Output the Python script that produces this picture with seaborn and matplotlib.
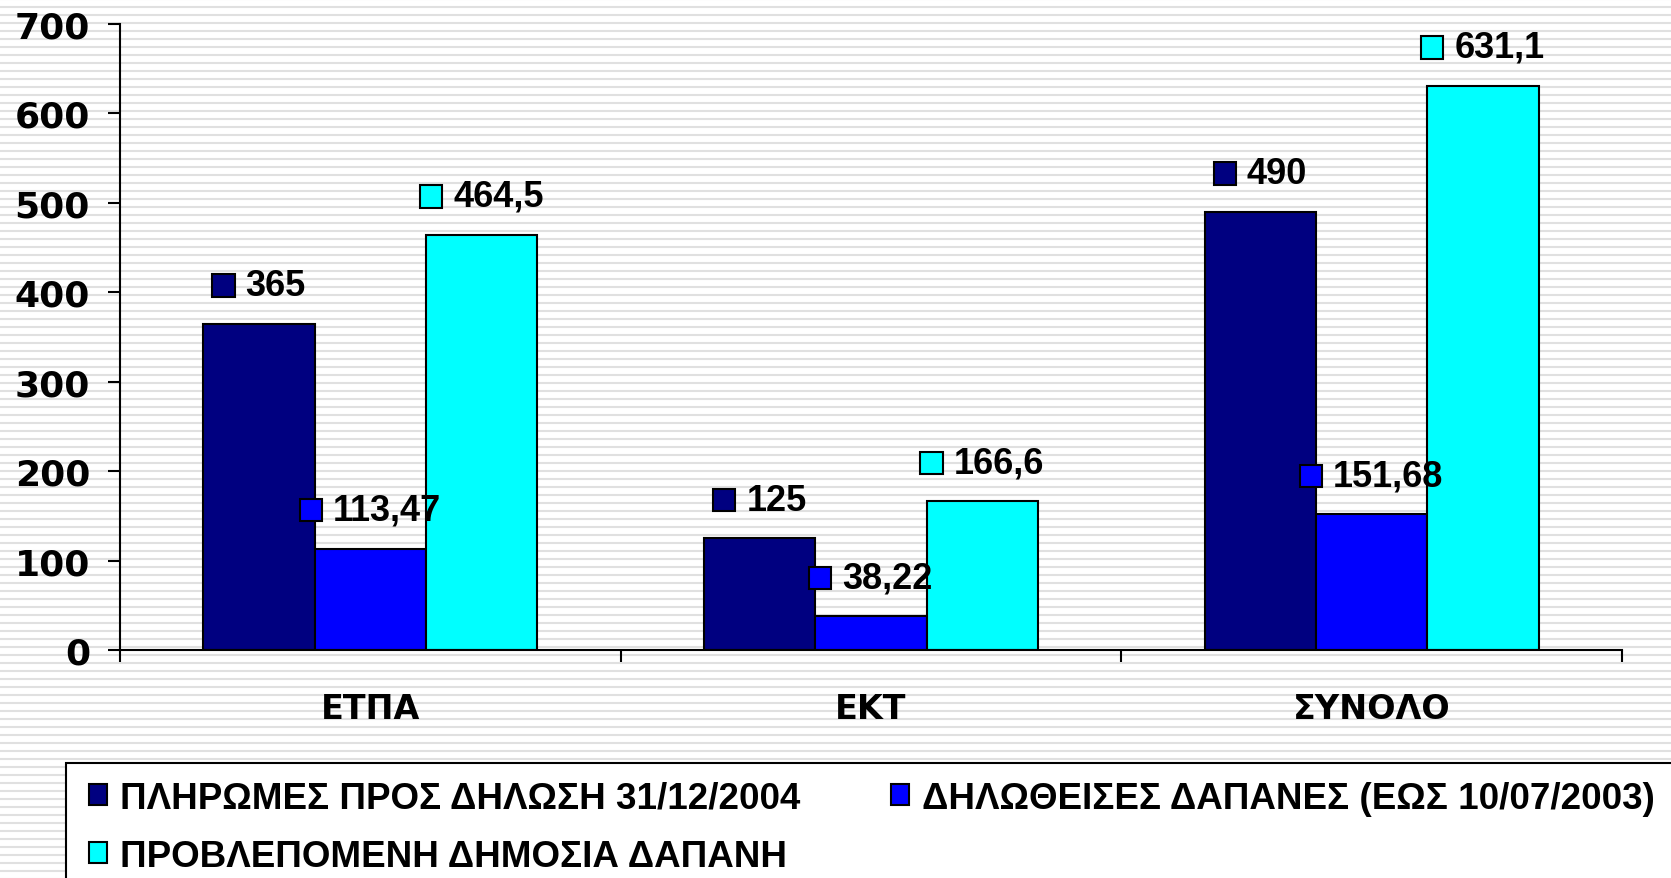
import numpy as np
import pandas as pd
import matplotlib
matplotlib.use("Agg")
import matplotlib.pyplot as plt
import matplotlib.patheffects as pe
import seaborn as sns
from matplotlib import font_manager
from matplotlib.patches import Rectangle, Patch
from matplotlib.ticker import FixedLocator
from matplotlib.offsetbox import DrawingArea, TextArea, HPacker, AnnotationBbox

categories = ["ΕΤΠΑ", "ΕΚΤ", "ΣΥΝΟΛΟ"]
series = ["ΠΛΗΡΩΜΕΣ ΠΡΟΣ ΔΗΛΩΣΗ 31/12/2004",
          "ΔΗΛΩΘΕΙΣΕΣ ΔΑΠΑΝΕΣ (ΕΩΣ 10/07/2003)",
          "ΠΡΟΒΛΕΠΟΜΕΝΗ ΔΗΜΟΣΙΑ ΔΑΠΑΝΗ"]
payments = [365, 125, 490]
declared = [113.47, 38.22, 151.68]
planned = [464.5, 166.6, 631.1]
colors = ["#000080", "#0000FF", "#00FFFF"]
yticks = [0, 100, 200, 300, 400, 500, 600, 700]

df = pd.DataFrame({
    "cat": categories * 3,
    "series": np.repeat(series, 3),
    "value": payments + declared + planned,
})

plt.rcParams["font.family"] = ["DejaVu Sans"]
plt.rcParams["font.weight"] = "bold"

names = {f.name for f in font_manager.fontManager.ttflist}
narrow = "Liberation Sans Narrow" in names
if narrow:
    leg_font = dict(family="Liberation Sans Narrow", weight="bold", size=32)
else:
    leg_font = dict(family="Liberation Sans", weight="bold", size=26.5)

W, H = 1671, 879
fig = plt.figure(figsize=(W / 100, H / 100), dpi=100)
fig.patch.set_facecolor("white")

# striped slide background + legend frame
bg = fig.add_axes([0, 0, 1, 1], zorder=-10)
bg.set_xlim(0, W)
bg.set_ylim(H, 0)
bg.axis("off")
bg.hlines(np.arange(0, H + 8, 8), 0, W, color="#e0e0e0", lw=1.5)
bg.add_patch(Rectangle((66, 764), W, 300, fc="white", ec="black", lw=1.5, zorder=5))

ax = fig.add_axes([120 / W, 1 - 651 / H, 1502 / W, 626 / H], zorder=1)
ax.set_facecolor("none")
sns.barplot(data=df, x="cat", y="value", hue="series", order=categories,
            hue_order=series, palette=colors, saturation=1, width=2 / 3,
            edgecolor="black", linewidth=1.5, legend=False, ax=ax)

ax.set_xlim(-0.5, 2.5)
ax.set_ylim(0, 700)
ax.set_yticks(yticks)
ax.set_xlabel("")
ax.set_ylabel("")
for s in ["top", "right"]:
    ax.spines[s].set_visible(False)
for s in ["left", "bottom"]:
    ax.spines[s].set_linewidth(1.5)
    ax.spines[s].set_color("black")

ax.tick_params(axis="y", labelsize=26, length=8.6, width=1.5, pad=13, direction="out")
ax.tick_params(axis="x", which="major", length=0, labelsize=24, pad=30)
ax.xaxis.set_minor_locator(FixedLocator([-0.5, 0.5, 1.5, 2.5]))
ax.tick_params(axis="x", which="minor", length=8.6, width=1.5, direction="out")

# data labels: legend key + value, centered over each bar
for vals, col, cont in zip([payments, declared, planned], colors, ax.containers):
    for bar, v in zip(cont, vals):
        x = bar.get_x() + bar.get_width() / 2
        da = DrawingArea(16, 16, 0, 0)
        da.add_artist(Rectangle((0, 0), 16, 16, fc=col, ec="black", lw=1.5))
        ta = TextArea(f"{v:g}".replace(".", ","),
                      textprops=dict(family="Liberation Sans", weight="bold", size=26))
        box = HPacker(children=[da, ta], align="center", pad=0, sep=8)
        ab = AnnotationBbox(box, (x, v), xybox=(0, 27.5), xycoords="data",
                            boxcoords="offset points", frameon=False,
                            box_alignment=(0.5, 0.5), zorder=5)
        ax.add_artist(ab)

handles = [Patch(fc=c, ec="black", lw=1.5) for c in colors]
leg = fig.legend([handles[0], handles[2], handles[1]], [series[0], series[2], series[1]],
                 ncol=2, loc="upper left", bbox_to_anchor=(89 / W, 1 - 782 / H),
                 frameon=False, prop=leg_font, handlelength=0.5, handleheight=0.5,
                 handletextpad=0.35, columnspacing=2.45, labelspacing=0.62,
                 borderpad=0, borderaxespad=0)
leg.set_zorder(10)
if narrow:
    for t in leg.get_texts():
        t.set_path_effects([pe.withStroke(linewidth=1.3, foreground="black")])

fig.savefig("out.png", dpi=100)
